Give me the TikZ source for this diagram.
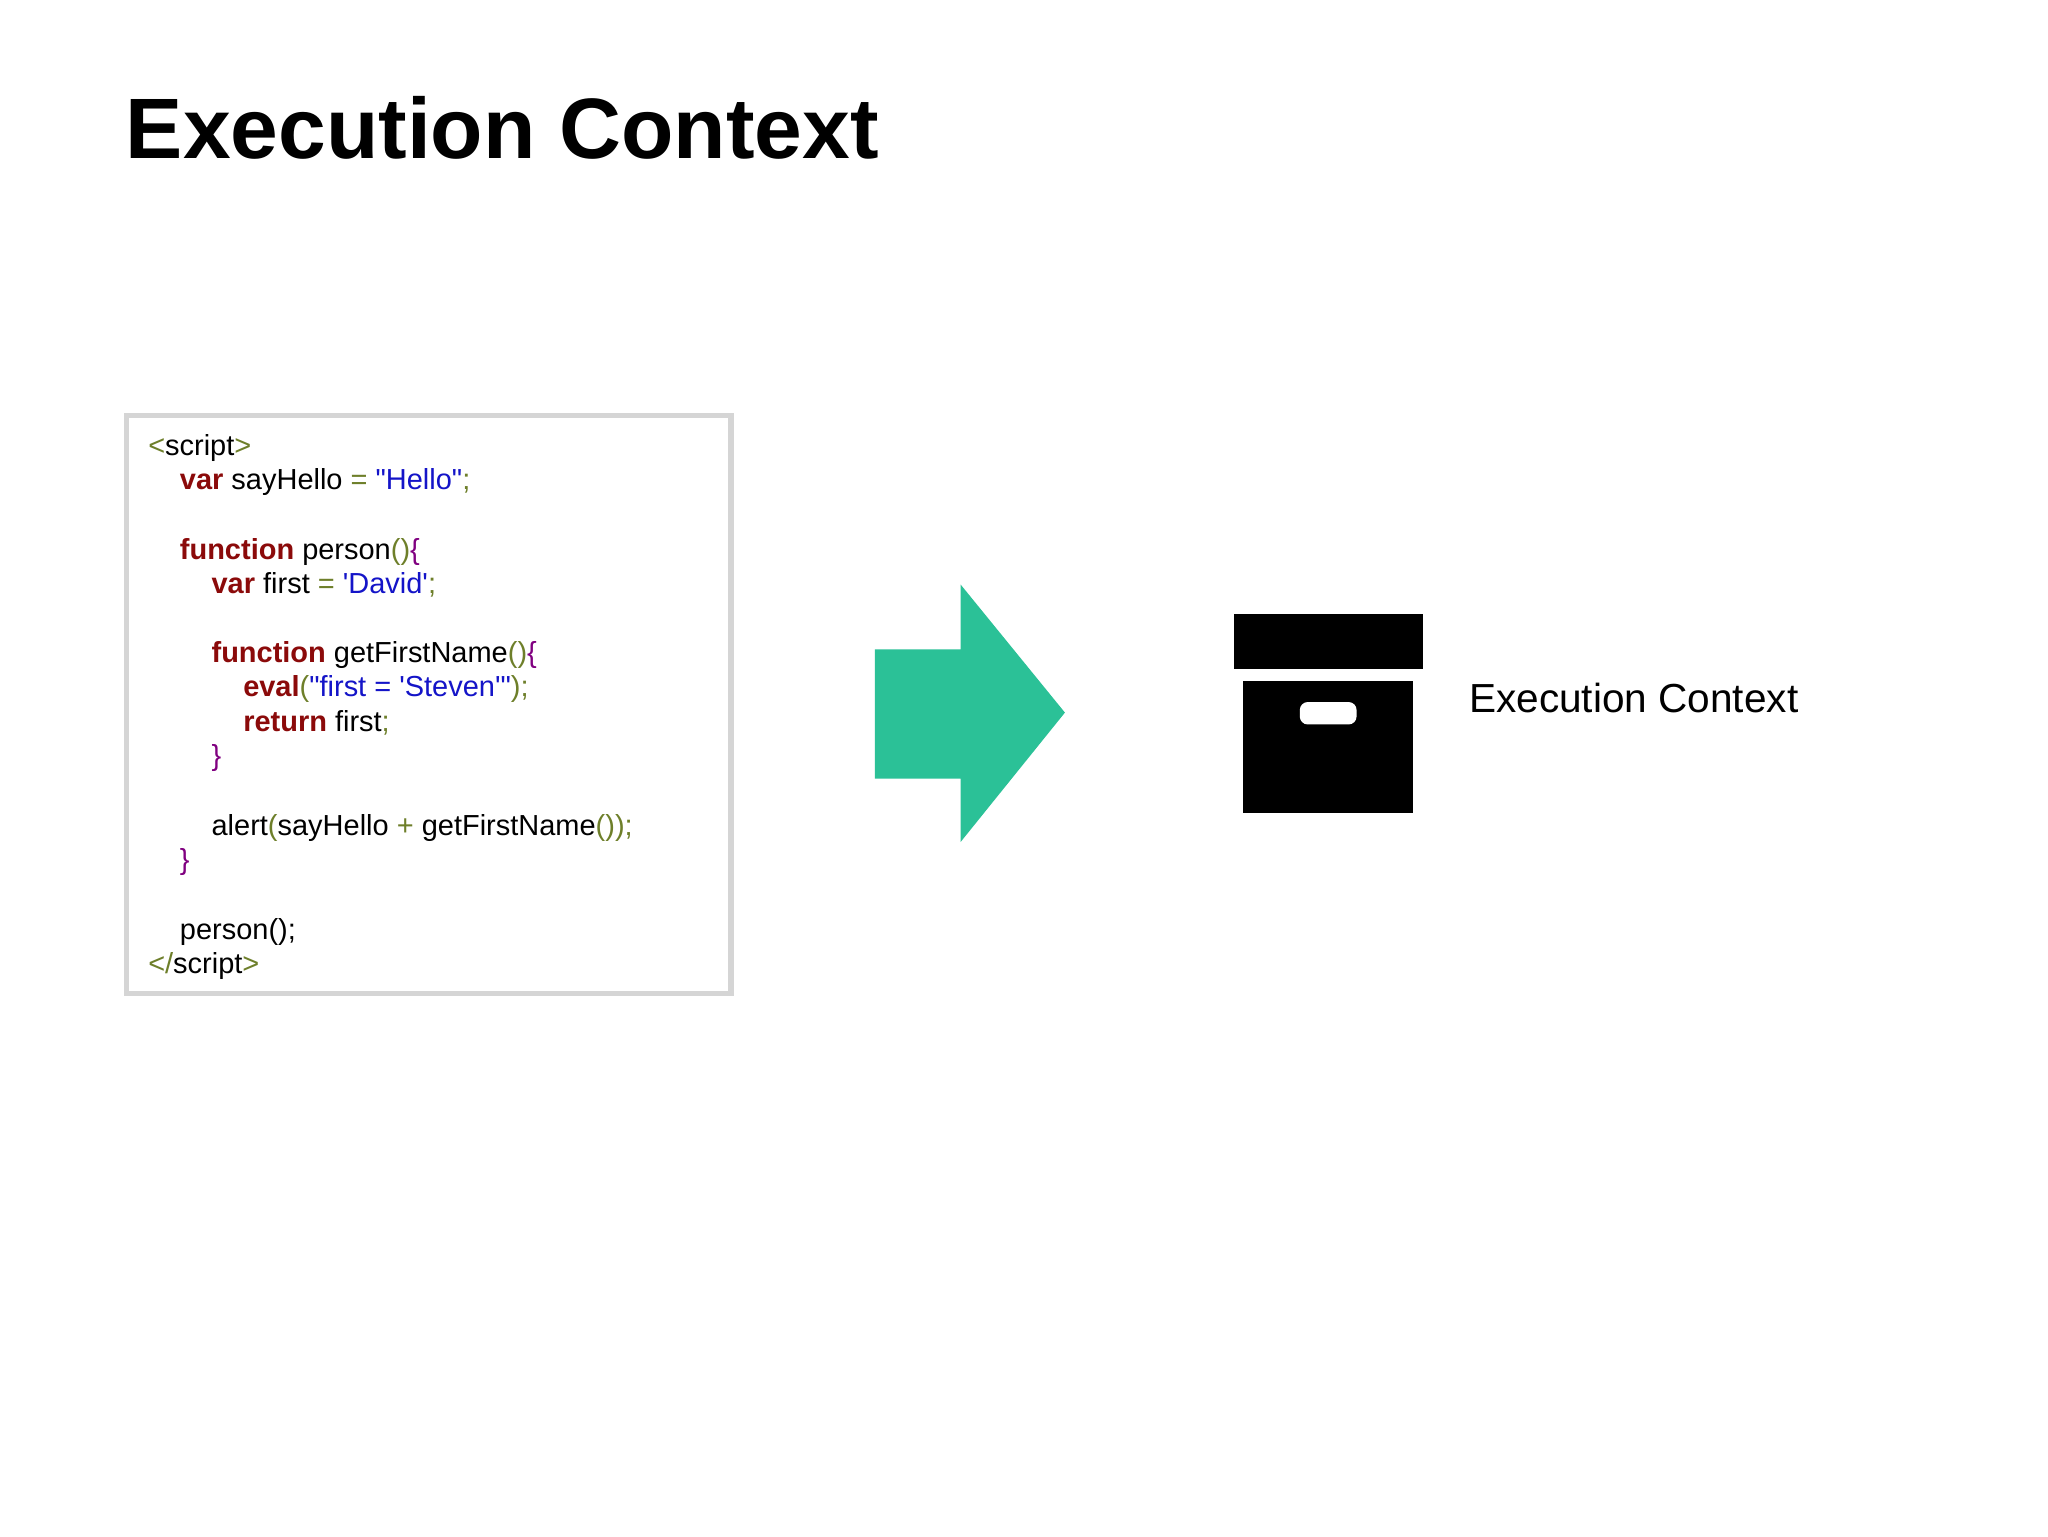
\documentclass[tikz,border=0pt]{standalone}
\usepackage{fontspec}
\setmainfont{Liberation Sans}
\newfontfamily\codefont{Liberation Sans}
\definecolor{kwc}{HTML}{8B0A0A}
\definecolor{pnc}{HTML}{6E7F2A}
\definecolor{stc}{HTML}{1414C8}
\definecolor{brc}{HTML}{800080}
\definecolor{arc}{HTML}{2BC197}
\newcommand{\kw}[1]{\textcolor{kwc}{\bfseries #1}}
\newcommand{\pn}[1]{\textcolor{pnc}{#1}}
\newcommand{\stc}[1]{\textcolor{stc}{#1}}
\newcommand{\brc}[1]{\textcolor{brc}{#1}}
\begin{document}
\begin{tikzpicture}[x=0.02cm,y=-0.02cm,
  code/.style={anchor=base west,inner sep=0pt,font=\codefont\fontsize{12.5}{15}\selectfont}]
\useasboundingbox[fill=white] (0,0) rectangle (1552,1164);
\node[anchor=base west,inner sep=0pt,font=\fontsize{37}{44}\selectfont\bfseries] (title) at (95,120) {Execution Context};
\draw[line width=4*0.567pt,draw={rgb,255:red,213;green,213;blue,213}] (96,315) rectangle (554,753);
\node[code] (l1) at (112,345) {\pn{<}script\pn{>}};
\node[code] (l2) at (136,371) {\kw{var} sayHello \pn{=} \stc{"Hello"}\pn{;}};
\node[code] (l3) at (136,424) {\kw{function} person\pn{()}\brc{\{}};
\node[code] (l4) at (160,450) {\kw{var} first \pn{=} \stc{'David'}\pn{;}};
\node[code] (l5) at (160,502) {\kw{function} getFirstName\pn{()}\brc{\{}};
\node[code] (l6) at (184,528) {\kw{eval}\pn{(}\stc{"first = 'Steven'"}\pn{);}};
\node[code] (l7) at (184,554) {\kw{return} first\pn{;}};
\node[code] (l8) at (160,580) {\brc{\}}};
\node[code] (l9) at (160,633) {alert\pn{(}sayHello \pn{+} getFirstName\pn{());}};
\node[code] (l10) at (136,659) {\brc{\}}};
\node[code] (l11) at (136,712) {person();};
\node[code] (l12) at (112,738) {\pn{</}script\pn{>}};
\fill[arc] (663,492) -- (728,492) -- (728,443) -- (807,540) -- (728,638) -- (728,590) -- (663,590) -- cycle;
\fill[black] (935,465) rectangle (1078,507);
\fill[black] (942,516) rectangle (1071,616);
\fill[white,rounded corners=0.12cm] (985,532) rectangle (1028,549);
\node[anchor=base west,inner sep=0pt,font=\fontsize{17.5}{21}\selectfont] (lab) at (1113,540) {Execution Context};
\end{tikzpicture}
\end{document}
